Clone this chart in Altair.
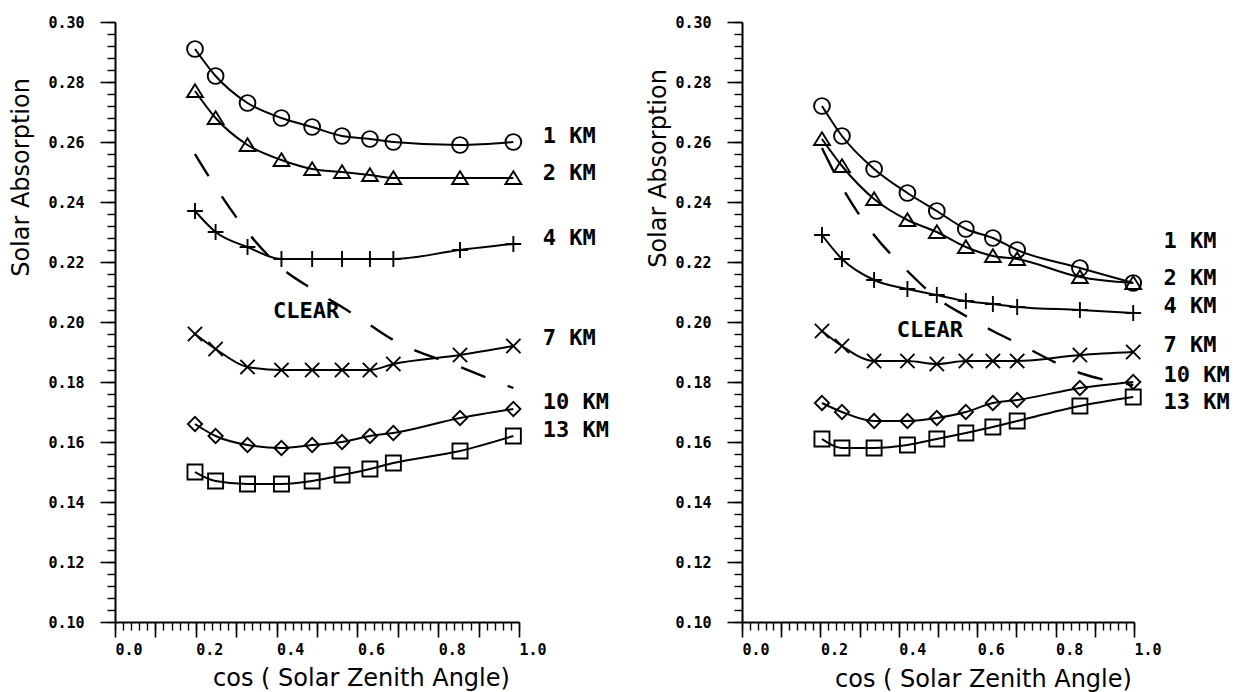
import altair as alt
import pandas as pd

# ---------------- data ----------------
SERIES = ["1 KM", "2 KM", "4 KM", "7 KM", "10 KM", "13 KM"]

X_LEFT = [0.198, 0.249, 0.328, 0.412, 0.488, 0.562, 0.631, 0.689, 0.854, 0.986]
LEFT_1KM = [0.291, 0.282, 0.273, 0.268, 0.265, 0.262, 0.261, 0.260, 0.259, 0.260]
LEFT_2KM = [0.277, 0.268, 0.259, 0.254, 0.251, 0.250, 0.249, 0.248, 0.248, 0.248]
LEFT_4KM = [0.237, 0.230, 0.225, 0.221, 0.221, 0.221, 0.221, 0.221, 0.224, 0.226]
LEFT_7KM = [0.196, 0.191, 0.185, 0.184, 0.184, 0.184, 0.184, 0.186, 0.189, 0.192]
LEFT_10KM = [0.166, 0.162, 0.159, 0.158, 0.159, 0.160, 0.162, 0.163, 0.168, 0.171]
LEFT_13KM = [0.150, 0.147, 0.146, 0.146, 0.147, 0.149, 0.151, 0.153, 0.157, 0.162]
LEFT_CLEAR = [0.256, 0.245, 0.230, 0.218, 0.211, 0.205, 0.199, 0.194, 0.185, 0.178]

X_RIGHT = [0.204, 0.255, 0.337, 0.422, 0.497, 0.571, 0.640, 0.702, 0.862, 0.998]
RIGHT_1KM = [0.272, 0.262, 0.251, 0.243, 0.237, 0.231, 0.228, 0.224, 0.218, 0.213]
RIGHT_2KM = [0.261, 0.252, 0.241, 0.234, 0.230, 0.225, 0.222, 0.221, 0.215, 0.213]
RIGHT_4KM = [0.229, 0.221, 0.214, 0.211, 0.209, 0.207, 0.206, 0.205, 0.204, 0.203]
RIGHT_7KM = [0.197, 0.192, 0.187, 0.187, 0.186, 0.187, 0.187, 0.187, 0.189, 0.190]
RIGHT_10KM = [0.173, 0.170, 0.167, 0.167, 0.168, 0.170, 0.173, 0.174, 0.178, 0.180]
RIGHT_13KM = [0.161, 0.158, 0.158, 0.159, 0.161, 0.163, 0.165, 0.167, 0.172, 0.175]
RIGHT_CLEAR = [0.258, 0.245, 0.229, 0.217, 0.208, 0.202, 0.197, 0.193, 0.183, 0.179]

# annotation anchors (label text positions, in data units)
LEFT_LABEL_X = 1.059
LEFT_LABEL_Y = [0.262, 0.2497, 0.228, 0.1947, 0.1733, 0.164]
RIGHT_LABEL_X = 1.075
RIGHT_LABEL_Y = [0.2271, 0.2148, 0.2055, 0.1922, 0.1822, 0.1732]
CLEAR_TEXT = "CLEAR"
LEFT_CLEAR_POS = (0.391, 0.2037)
RIGHT_CLEAR_POS = (0.395, 0.1972)

# axis tick values
Y_MAJOR = [0.10, 0.12, 0.14, 0.16, 0.18, 0.20, 0.22, 0.24, 0.26, 0.28, 0.30]
Y_MINOR = [round(0.10 + 0.004 * i, 3) for i in range(51)]
X_MAJOR = [round(0.1 * i, 1) for i in range(11)]
X_MINOR = [round(0.02 * i, 2) for i in range(51)]

MONO = "DejaVu Sans Mono"
SANS = "DejaVu Sans"

SHAPES = [
    "circle",
    "M0,-0.85L1,0.75L-1,0.75Z",
    "M-1,0L1,0M0,-1L0,1",
    "M-0.9,-0.9L0.9,0.9M-0.9,0.9L0.9,-0.9",
    "M0,-0.9L0.9,0L0,0.9L-0.9,0Z",
    "M-0.95,-0.95L0.95,-0.95L0.95,0.95L-0.95,0.95Z",
]


def panel(xs, series_vals, clear_vals, label_x, label_ys, clear_pos,
          width, ytitle_x, ytitle_y, xtitle_x, xtitle_y):
    rows = []
    for name, vals in zip(SERIES, series_vals):
        for x, y in zip(xs, vals):
            rows.append({"x": x, "y": y, "series": name})
    df = pd.DataFrame(rows)
    df_clear = pd.DataFrame({"x": xs, "y": clear_vals})
    df_lab = pd.DataFrame({"x": [label_x] * len(SERIES), "y": label_ys, "label": SERIES})
    df_clab = pd.DataFrame({"x": [clear_pos[0]], "y": [clear_pos[1]], "label": [CLEAR_TEXT]})

    xsc = alt.Scale(domain=[0, 1], nice=False, zero=False)
    ysc = alt.Scale(domain=[0.10, 0.30], nice=False, zero=False)

    x_major = alt.Axis(
        orient="bottom", values=X_MAJOR, tickSize=15, tickWidth=1.6, domainWidth=2,
        labelExpr="round(datum.value*10) % 2 == 0 ? format(datum.value, '.1f') : ''",
        labelAlign="left", labelBaseline="top", labelPadding=5, labelFlush=False,
        labelOverlap=False, labelFont=MONO, labelFontWeight="bold", labelFontSize=15,
        title="cos ( Solar Zenith Angle)", titleX=xtitle_x, titleY=xtitle_y,
        titleAlign="center", titleBaseline="middle", titleFont=SANS,
        titleFontSize=24, titleFontWeight="normal", grid=False,
    )
    x_minor = alt.Axis(orient="bottom", values=X_MINOR, tickSize=8, tickWidth=1.4,
                       labels=False, domain=False, title=None, grid=False)
    y_major = alt.Axis(
        orient="left", values=Y_MAJOR, tickSize=15, tickWidth=1.6, domainWidth=2,
        format=".2f", labelBaseline="middle", labelPadding=16, labelFlush=False,
        labelOverlap=False, labelFont=MONO, labelFontWeight="bold", labelFontSize=15,
        title="Solar Absorption", titleAngle=270, titleX=ytitle_x, titleY=ytitle_y,
        titleAlign="center", titleBaseline="middle", titleFont=SANS,
        titleFontSize=24, titleFontWeight="normal", grid=False,
    )
    y_minor = alt.Axis(orient="left", values=Y_MINOR, tickSize=8, tickWidth=1.4,
                       labels=False, domain=False, title=None, grid=False)

    lines = alt.Chart(df).mark_line(color="black", strokeWidth=2, interpolate="monotone").encode(
        x=alt.X("x:Q", scale=xsc, axis=x_major),
        y=alt.Y("y:Q", scale=ysc, axis=y_major),
        detail="series:N",
    )
    clear = alt.Chart(df_clear).mark_line(color="black", strokeWidth=2.4, strokeDash=[26, 24],
                                          interpolate="monotone").encode(
        x=alt.X("x:Q", scale=xsc, axis=x_minor),
        y=alt.Y("y:Q", scale=ysc, axis=y_minor),
    )
    points = alt.Chart(df).mark_point(color="black", filled=False, strokeWidth=1.9, size=250, opacity=1).encode(
        x=alt.X("x:Q", scale=xsc, axis=None),
        y=alt.Y("y:Q", scale=ysc, axis=None),
        shape=alt.Shape("series:N", scale=alt.Scale(domain=SERIES, range=SHAPES), legend=None),
    )
    labels = alt.Chart(df_lab).mark_text(align="left", baseline="middle", font=MONO,
                                         fontWeight="bold", fontSize=22, color="black").encode(
        x=alt.X("x:Q", scale=xsc, axis=None),
        y=alt.Y("y:Q", scale=ysc, axis=None),
        text="label:N",
    )
    clabel = alt.Chart(df_clab).mark_text(align="left", baseline="middle", font=MONO,
                                          fontWeight="bold", fontSize=22, color="black").encode(
        x=alt.X("x:Q", scale=xsc, axis=None),
        y=alt.Y("y:Q", scale=ysc, axis=None),
        text="label:N",
    )
    return alt.layer(lines, clear, points, labels, clabel).resolve_axis(
        x="independent", y="independent"
    ).properties(width=width, height=600)


left = panel(X_LEFT, [LEFT_1KM, LEFT_2KM, LEFT_4KM, LEFT_7KM, LEFT_10KM, LEFT_13KM],
             LEFT_CLEAR, LEFT_LABEL_X, LEFT_LABEL_Y, LEFT_CLEAR_POS,
             404, -94, 155, 246, 56)
right = panel(X_RIGHT, [RIGHT_1KM, RIGHT_2KM, RIGHT_4KM, RIGHT_7KM, RIGHT_10KM, RIGHT_13KM],
              RIGHT_CLEAR, RIGHT_LABEL_X, RIGHT_LABEL_Y, RIGHT_CLEAR_POS,
              392, -84, 146, 241, 57)

chart = alt.hconcat(left, right, spacing=223, bounds="flush").properties(
    padding={"left": 1, "top": 7, "right": 5, "bottom": 5},
    background="white",
).configure_view(stroke=None).configure_axis(
    domainColor="black", tickColor="black", labelColor="black", titleColor="black"
)

chart.save("out.html", embed_options={"renderer": "svg", "actions": False})
